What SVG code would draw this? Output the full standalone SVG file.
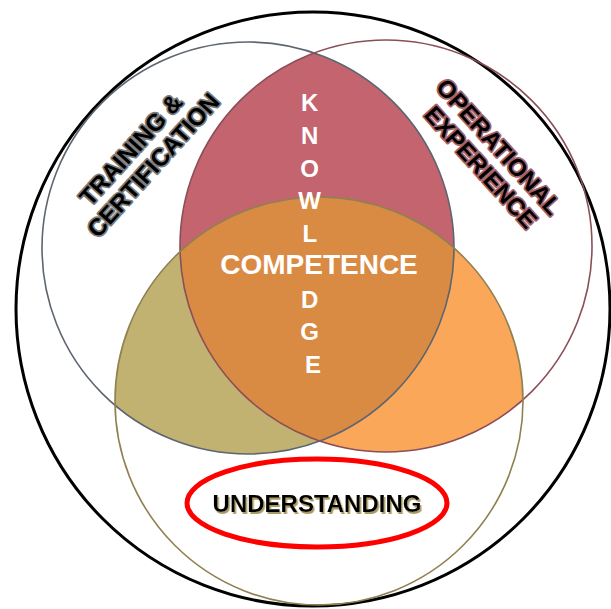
<svg xmlns="http://www.w3.org/2000/svg" width="611" height="609" viewBox="0 0 611 609">
  <style>
    .ring { fill: none; }
    .label { font-family: "Liberation Sans", Arial, sans-serif; font-weight: bold; }
    .dark { fill: #000; stroke-linejoin: round; paint-order: stroke; }
    .white { fill: #fff; }
  </style>
  <defs>
    <clipPath id="clipTraining"><circle cx="248" cy="248" r="206"/></clipPath>
    <clipPath id="clipOperational"><circle cx="386" cy="246" r="206"/></clipPath>
    <clipPath id="clipUnderstanding"><circle cx="319" cy="401" r="204"/></clipPath>
    <filter id="khakiShadow" x="-10%" y="-30%" width="120%" height="160%">
      <feDropShadow dx="1.5" dy="2" stdDeviation="0.4" flood-color="#a89a62" flood-opacity="1"/>
    </filter>
  </defs>

  <rect width="611" height="609" fill="#fff"/>

  <!-- overlap fills -->
  <g id="overlaps">
    <g clip-path="url(#clipTraining)">
      <circle cx="386" cy="246" r="206" fill="#c4646f"/>
      <circle cx="319" cy="401" r="204" fill="#c2b271"/>
    </g>
    <g clip-path="url(#clipOperational)">
      <circle cx="319" cy="401" r="204" fill="#faa75a"/>
    </g>
    <g clip-path="url(#clipTraining)">
      <g clip-path="url(#clipOperational)">
        <circle cx="319" cy="401" r="204" fill="#d98b44"/>
      </g>
    </g>
  </g>

  <!-- circle outlines -->
  <g id="scope">
    <circle class="ring" cx="313" cy="309" r="297" stroke="#000" stroke-width="3"/>
  </g>
  <g id="training">
    <circle class="ring" cx="248" cy="248" r="206" stroke="#5c6570" stroke-width="1.6"/>
    <g transform="translate(143,156) rotate(-48)">
      <text class="label dark" font-size="24" text-anchor="middle" stroke="#7c7c7c" stroke-width="3.5">
        <tspan x="0" y="-5">TRAINING &amp;</tspan>
        <tspan x="0" y="22">CERTIFICATION</tspan>
      </text>
    </g>
  </g>
  <g id="operational">
    <circle class="ring" cx="386" cy="246" r="206" stroke="#8a4f57" stroke-width="1.6"/>
    <g transform="translate(491,158) rotate(48)">
      <text class="label dark" font-size="24" text-anchor="middle" stroke="#a5626a" stroke-width="3.5">
        <tspan x="0" y="-5">OPERATIONAL</tspan>
        <tspan x="0" y="22">EXPERIENCE</tspan>
      </text>
    </g>
  </g>
  <g id="understanding">
    <circle class="ring" cx="319" cy="401" r="204" stroke="#8f8150" stroke-width="1.6"/>
    <ellipse cx="317" cy="503" rx="130" ry="44" fill="none" stroke="#ff0000" stroke-width="5"/>
    <text class="label" x="317" y="512" font-size="24" text-anchor="middle" fill="#000" filter="url(#khakiShadow)">UNDERSTANDING</text>
  </g>

  <!-- centre labels -->
  <g id="knowledge">
    <text class="label white" font-size="24" text-anchor="middle">
      <tspan x="313" y="111">K</tspan>
      <tspan x="313" y="144">N</tspan>
      <tspan x="313" y="176.5">O</tspan>
      <tspan x="313" y="209">W</tspan>
      <tspan x="313" y="242">L</tspan>
      <tspan x="313" y="307.5">D</tspan>
      <tspan x="313" y="340">G</tspan>
      <tspan x="313" y="373">E</tspan>
    </text>
  </g>
  <g id="competence">
    <text class="label white" x="319" y="274" font-size="28" text-anchor="middle">COMPETENCE</text>
  </g>
</svg>
